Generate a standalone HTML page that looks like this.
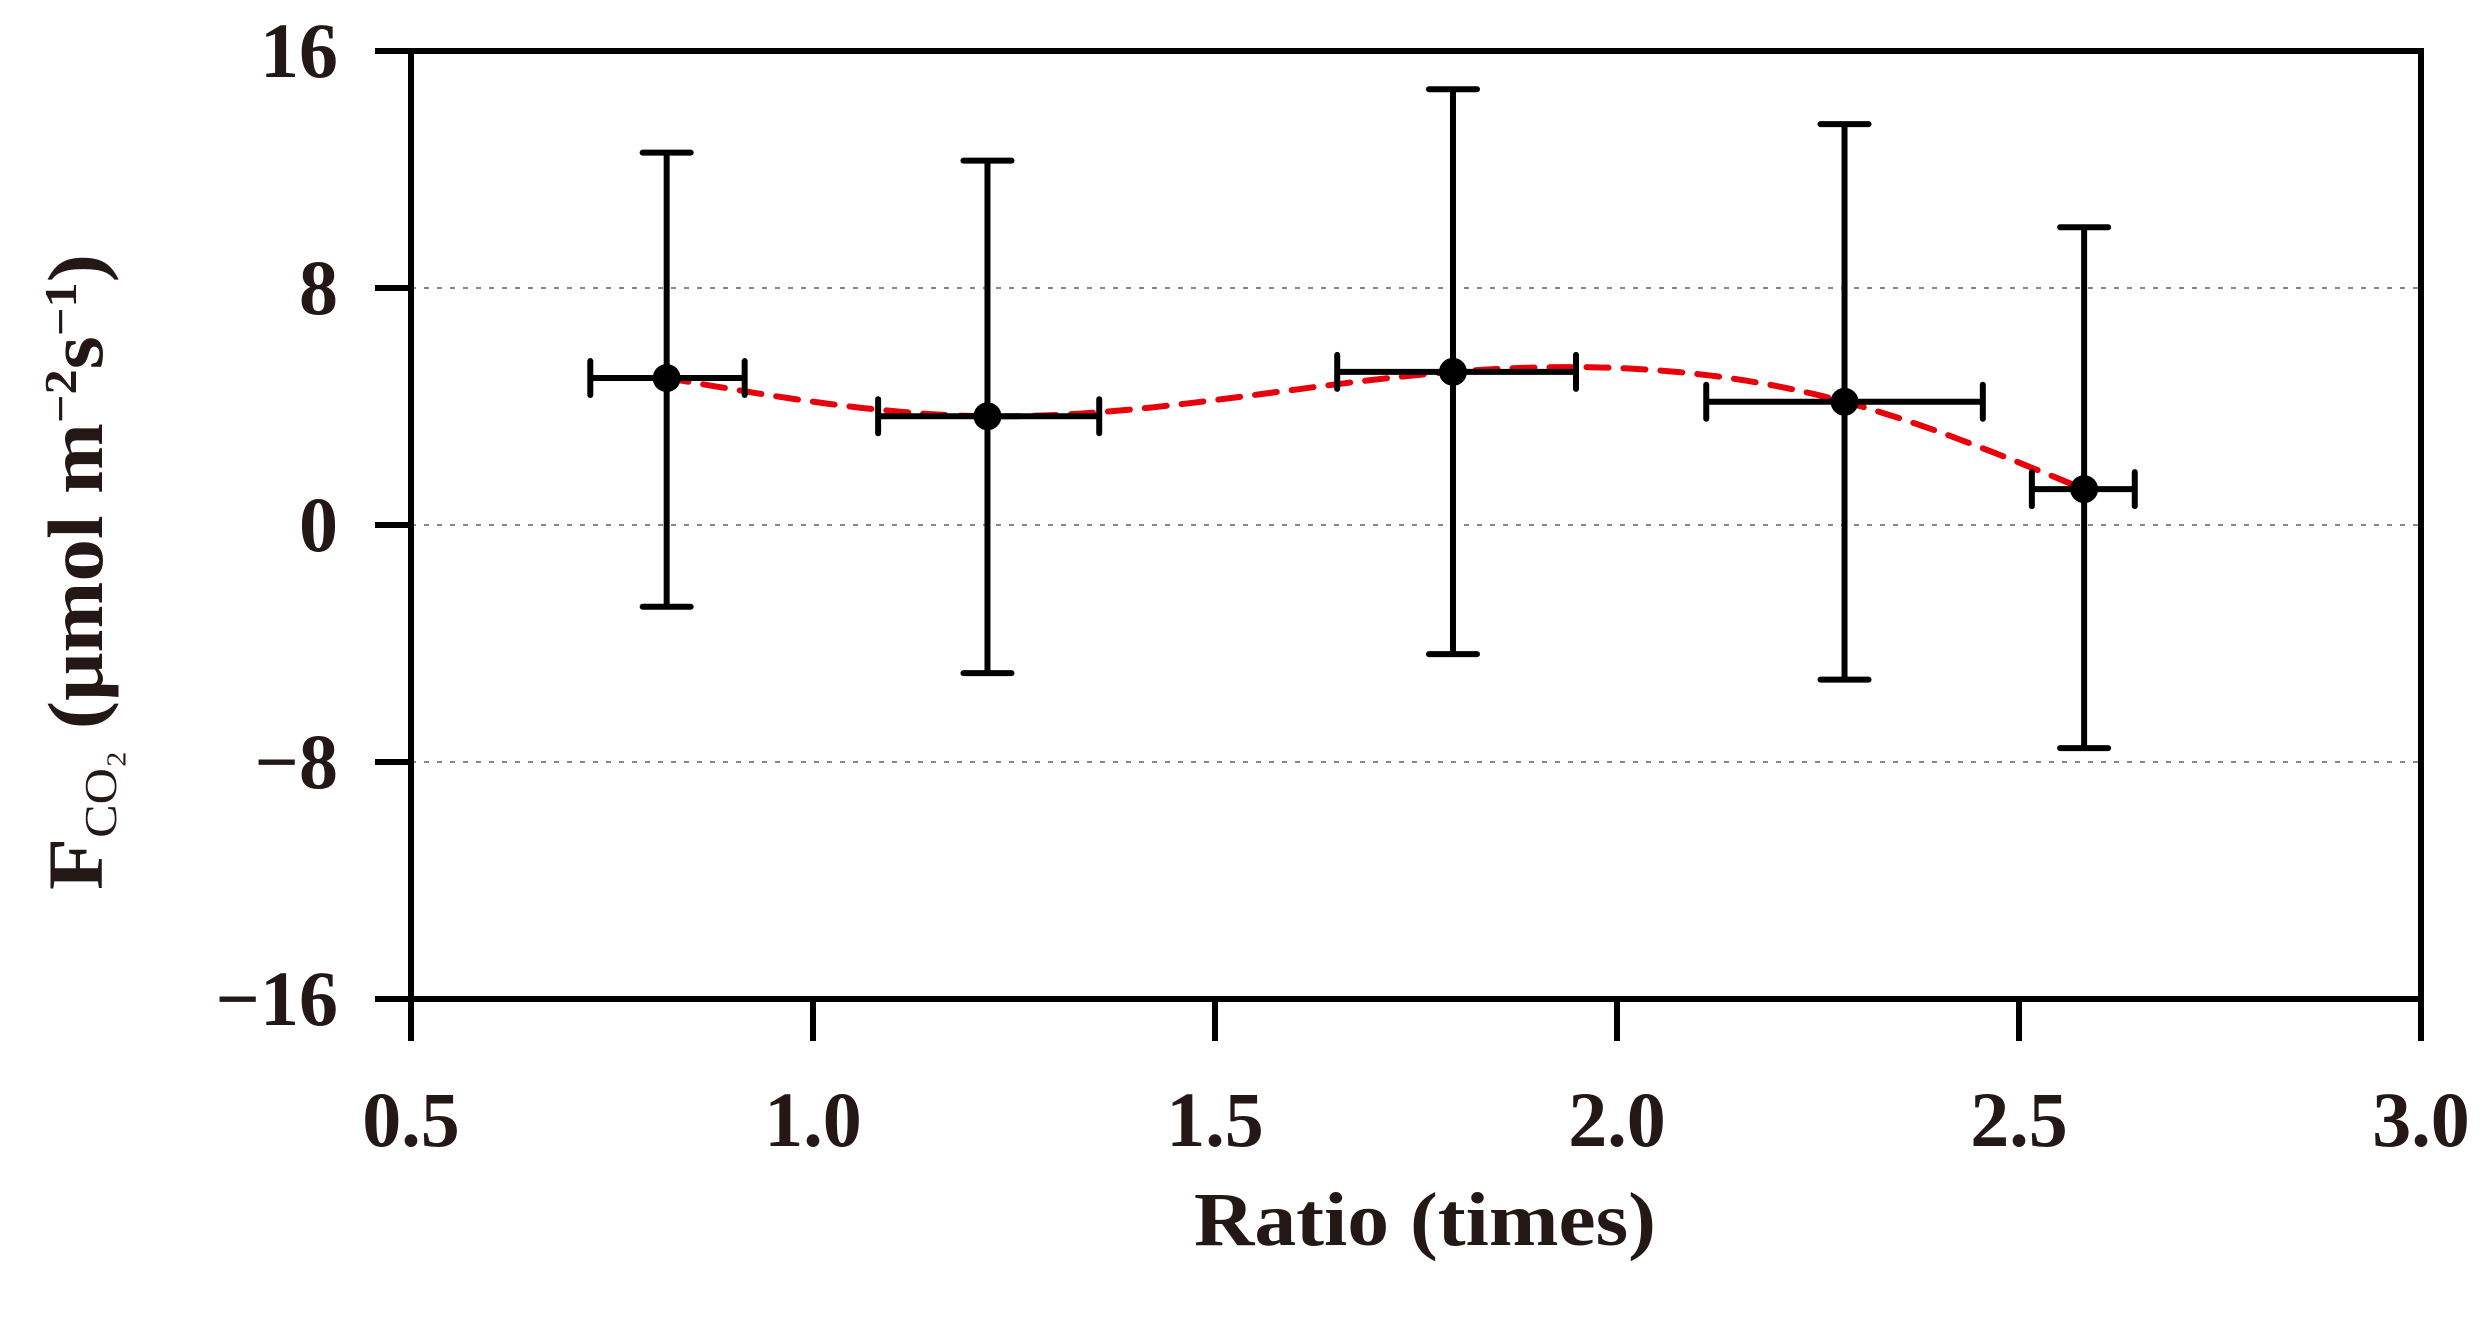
<!DOCTYPE html>
<html><head><meta charset="utf-8"><style>
html,body{margin:0;padding:0;background:#fff}
svg{display:block}
text{font-family:"Liberation Serif",serif;font-weight:bold}
</style></head><body>
<svg id="chart" width="2488" height="1320" viewBox="0 0 2488 1320" xmlns="http://www.w3.org/2000/svg">
<g id="grid"></g>
<g id="axes"></g>
<g id="curve"></g>
<g id="errs"></g>
<g id="labels"></g>
<text x="1425" y="1245" font-size="76" text-anchor="middle" textLength="462" lengthAdjust="spacingAndGlyphs" fill="#231815">Ratio (times)</text>
<text transform="translate(102,572) rotate(-90)" font-size="78" text-anchor="middle" textLength="636" lengthAdjust="spacingAndGlyphs" fill="#231815">F<tspan font-size="46" font-weight="normal" dy="14">CO₂</tspan><tspan dy="-14"> (μmol m</tspan><tspan font-size="46" dy="-26">−2</tspan><tspan dy="26">s</tspan><tspan font-size="46" dy="-26">−1</tspan><tspan dy="26">)</tspan></text>
</svg>
<script>
const xVals=[0.818,1.217,1.796,2.283,2.581];
const yVals=[4.96,3.67,5.17,4.16,1.21];
const yHigh=[12.57,12.30,14.71,13.53,10.05];
const yLow=[-2.76,-5.0,-4.36,-5.22,-7.53];
const xLow=[0.723,1.081,1.652,2.111,2.516];
const xHigh=[0.915,1.356,1.949,2.455,2.644];
const xTicks=["0.5","1.0","1.5","2.0","2.5","3.0"];
const yTicks=["16","8","0","−8","−16"];
const yTickVals=[16,8,0,-8,-16];
const gridVals=[8,0,-8];

const L=411,R=2421,T=51,B=999;
const X=v=>L+(v-0.5)/2.5*(R-L);
const Y=v=>T+(16-v)/32*(B-T);
const NS="http://www.w3.org/2000/svg";
function mk(tag,attrs,parent){const e=document.createElementNS(NS,tag);for(const k in attrs)e.setAttribute(k,attrs[k]);document.getElementById(parent).appendChild(e);return e;}

gridVals.forEach(v=>{
  const e=mk('line',{x1:L,x2:R,y1:Y(v),y2:Y(v),stroke:'#888','stroke-width':2,'stroke-dasharray':'5 8'},'grid');
  
  
});
const frame=mk('rect',{x:L,y:T,width:R-L,height:B-T,fill:'none',stroke:'#000','stroke-width':6},'axes');


yTickVals.forEach((v,i)=>{
  const t=mk('line',{x1:L-36,x2:L,y1:Y(v),y2:Y(v),stroke:'#000','stroke-width':6},'axes');
  
  
  const lb=mk('text',{x:338,y:Y(v)+26,'font-size':78,'text-anchor':'end',fill:'#231815'},'labels');
  lb.textContent=yTicks[i];
  
  
});
xTicks.forEach(s=>{
  const v=parseFloat(s);
  const t=mk('line',{x1:X(v),x2:X(v),y1:B,y2:B+42,stroke:'#000','stroke-width':6},'axes');
  
  
  const lb=mk('text',{x:X(v),y:1146,'font-size':78,'text-anchor':'middle',fill:'#231815'},'labels');
  lb.textContent=s;
  
  
});

(function(){
  const n=xVals.length,h=[],al=[0],l=[1],mu=[0],z=[0],c=new Array(n).fill(0),b=[],d=[];
  for(let i=0;i<n-1;i++)h.push(xVals[i+1]-xVals[i]);
  for(let i=1;i<n-1;i++)al.push(3/h[i]*(yVals[i+1]-yVals[i])-3/h[i-1]*(yVals[i]-yVals[i-1]));
  for(let i=1;i<n-1;i++){l[i]=2*(xVals[i+1]-xVals[i-1])-h[i-1]*mu[i-1];mu[i]=h[i]/l[i];z[i]=(al[i]-h[i-1]*z[i-1])/l[i];}
  l[n-1]=1;z[n-1]=0;
  for(let j=n-2;j>=0;j--){c[j]=z[j]-mu[j]*c[j+1];b[j]=(yVals[j+1]-yVals[j])/h[j]-h[j]*(c[j+1]+2*c[j])/3;d[j]=(c[j+1]-c[j])/(3*h[j]);}
  let p='';
  for(let j=0;j<n-1;j++){for(let k=0;k<=40;k++){const t=h[j]*k/40;const y=yVals[j]+b[j]*t+c[j]*t*t+d[j]*t*t*t;p+=(p?'L':'M')+X(xVals[j]+t).toFixed(1)+','+Y(y).toFixed(1);}}
  const e=mk('path',{d:p,fill:'none',stroke:'#e8000b','stroke-width':6,'stroke-dasharray':'22 15','stroke-linecap':'round'},'curve');
  
  
})();

xVals.forEach((xv,i)=>{
  const g=mk('g',{},'errs');
  
  
  const id='pt'+i;g.setAttribute('id',id);
  const cx=X(xv),cy=Y(yVals[i]);
  mk('line',{x1:cx,x2:cx,y1:Y(yHigh[i]),y2:Y(yLow[i]),stroke:'#000','stroke-width':6},id);
  mk('line',{x1:cx-24,x2:cx+24,y1:Y(yHigh[i]),y2:Y(yHigh[i]),stroke:'#000','stroke-width':6,'stroke-linecap':'round'},id);
  mk('line',{x1:cx-24,x2:cx+24,y1:Y(yLow[i]),y2:Y(yLow[i]),stroke:'#000','stroke-width':6,'stroke-linecap':'round'},id);
  mk('line',{x1:X(xLow[i]),x2:X(xHigh[i]),y1:cy,y2:cy,stroke:'#000','stroke-width':6},id);
  mk('line',{x1:X(xLow[i]),x2:X(xLow[i]),y1:cy-17,y2:cy+17,stroke:'#000','stroke-width':6,'stroke-linecap':'round'},id);
  mk('line',{x1:X(xHigh[i]),x2:X(xHigh[i]),y1:cy-17,y2:cy+17,stroke:'#000','stroke-width':6,'stroke-linecap':'round'},id);
  mk('circle',{cx:cx,cy:cy,r:14,fill:'#000'},id);
});
</script>
</body></html>
